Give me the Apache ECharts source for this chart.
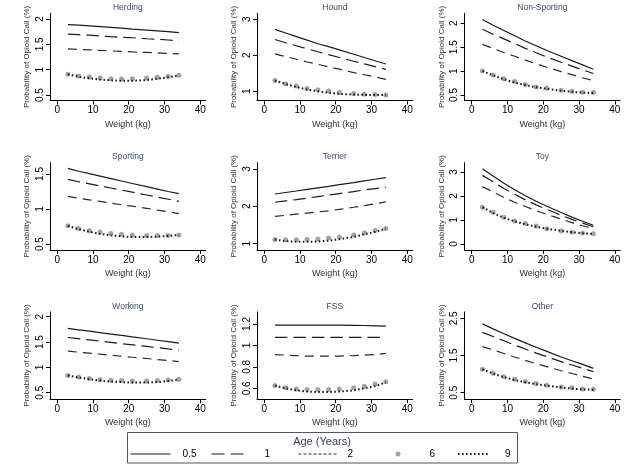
<!DOCTYPE html>
<html><head><meta charset="utf-8">
<script src="https://cdn.jsdelivr.net/npm/echarts@6/dist/echarts.min.js"></script>
<style>html,body{margin:0;padding:0;background:#fff}#c{width:643px;height:466px}</style>
</head><body><div id="c"></div>
<script>
// ---------- DATA ----------
const weights = [3, 6, 9, 12, 15, 18, 21, 25, 28, 31, 34];
const ages = ['0.5', '1', '2', '6', '9'];
const groups = ['Herding', 'Hound', 'Non-Sporting', 'Sporting', 'Terrier', 'Toy', 'Working', 'FSS', 'Other'];
const xTicks = [0, 10, 20, 30, 40];

// each row: age 0.5, 1, 2, 6, 9 (probability of opioid call, %)
const herding = [
  [1.89, 1.88, 1.865, 1.85, 1.835, 1.82, 1.80, 1.78, 1.765, 1.75, 1.73],
  [1.70, 1.69, 1.68, 1.665, 1.65, 1.64, 1.63, 1.61, 1.60, 1.585, 1.57],
  [1.41, 1.40, 1.39, 1.38, 1.37, 1.36, 1.35, 1.34, 1.33, 1.32, 1.31],
  [0.91, 0.875, 0.855, 0.835, 0.82, 0.815, 0.82, 0.835, 0.85, 0.87, 0.89],
  [0.91, 0.86, 0.83, 0.805, 0.79, 0.78, 0.78, 0.795, 0.82, 0.85, 0.89]
];
const hound = [
  [2.72, 2.62, 2.52, 2.42, 2.32, 2.24, 2.15, 2.03, 1.94, 1.85, 1.76],
  [2.44, 2.35, 2.265, 2.18, 2.10, 2.02, 1.94, 1.835, 1.76, 1.685, 1.61],
  [2.04, 1.965, 1.89, 1.815, 1.75, 1.68, 1.615, 1.52, 1.46, 1.40, 1.33],
  [1.30, 1.21, 1.15, 1.08, 1.04, 1.01, 0.97, 0.94, 0.92, 0.91, 0.90],
  [1.30, 1.20, 1.12, 1.05, 1.00, 0.96, 0.93, 0.91, 0.90, 0.90, 0.90]
];
const nonSporting = [
  [2.08, 1.96, 1.85, 1.74, 1.63, 1.53, 1.43, 1.31, 1.22, 1.13, 1.04],
  [1.875, 1.77, 1.675, 1.575, 1.475, 1.385, 1.295, 1.185, 1.105, 1.025, 0.95],
  [1.56, 1.47, 1.39, 1.31, 1.23, 1.155, 1.08, 0.99, 0.925, 0.86, 0.80],
  [1.00, 0.92, 0.84, 0.78, 0.72, 0.67, 0.64, 0.60, 0.58, 0.56, 0.55],
  [1.00, 0.91, 0.83, 0.76, 0.71, 0.66, 0.63, 0.59, 0.57, 0.55, 0.54]
];
const sporting = [
  [1.58, 1.54, 1.505, 1.47, 1.435, 1.40, 1.365, 1.32, 1.285, 1.25, 1.22],
  [1.424, 1.39, 1.36, 1.33, 1.30, 1.27, 1.24, 1.20, 1.17, 1.14, 1.11],
  [1.18, 1.155, 1.13, 1.11, 1.085, 1.06, 1.04, 1.01, 0.985, 0.96, 0.935],
  [0.76, 0.72, 0.69, 0.67, 0.65, 0.64, 0.63, 0.62, 0.62, 0.62, 0.63],
  [0.76, 0.71, 0.675, 0.645, 0.625, 0.61, 0.60, 0.60, 0.605, 0.615, 0.63]
];
const terrier = [
  [2.33, 2.37, 2.41, 2.455, 2.495, 2.535, 2.58, 2.635, 2.68, 2.725, 2.77],
  [2.11, 2.145, 2.18, 2.22, 2.26, 2.30, 2.34, 2.395, 2.44, 2.475, 2.51],
  [1.73, 1.76, 1.79, 1.82, 1.85, 1.88, 1.92, 1.975, 2.02, 2.07, 2.12],
  [1.115, 1.105, 1.105, 1.115, 1.125, 1.15, 1.18, 1.23, 1.29, 1.35, 1.41],
  [1.11, 1.07, 1.05, 1.05, 1.06, 1.08, 1.12, 1.18, 1.25, 1.32, 1.40]
];
const toy = [
  [3.14, 2.83, 2.53, 2.26, 2.01, 1.78, 1.57, 1.31, 1.12, 0.95, 0.78],
  [2.86, 2.59, 2.31, 2.07, 1.84, 1.63, 1.44, 1.20, 1.025, 0.87, 0.72],
  [2.39, 2.17, 1.94, 1.74, 1.56, 1.39, 1.23, 1.04, 0.89, 0.76, 0.64],
  [1.53, 1.32, 1.11, 0.96, 0.85, 0.75, 0.64, 0.54, 0.49, 0.46, 0.43],
  [1.53, 1.29, 1.09, 0.94, 0.82, 0.72, 0.64, 0.55, 0.49, 0.45, 0.42]
];
const working = [
  [1.77, 1.742, 1.714, 1.686, 1.658, 1.63, 1.602, 1.565, 1.536, 1.508, 1.48],
  [1.59, 1.566, 1.542, 1.517, 1.493, 1.469, 1.445, 1.413, 1.389, 1.364, 1.34],
  [1.32, 1.30, 1.28, 1.26, 1.24, 1.22, 1.20, 1.175, 1.155, 1.135, 1.115],
  [0.84, 0.81, 0.78, 0.76, 0.745, 0.74, 0.73, 0.73, 0.74, 0.75, 0.76],
  [0.84, 0.80, 0.765, 0.74, 0.72, 0.71, 0.70, 0.70, 0.71, 0.73, 0.76]
];
const fss = [
  [1.19, 1.19, 1.19, 1.19, 1.19, 1.19, 1.19, 1.188, 1.186, 1.183, 1.18],
  [1.075, 1.075, 1.075, 1.075, 1.075, 1.075, 1.075, 1.075, 1.075, 1.075, 1.075],
  [0.915, 0.91, 0.905, 0.90, 0.90, 0.90, 0.90, 0.905, 0.91, 0.915, 0.925],
  [0.625, 0.606, 0.594, 0.588, 0.588, 0.588, 0.594, 0.606, 0.62, 0.64, 0.66],
  [0.625, 0.60, 0.58, 0.57, 0.565, 0.565, 0.57, 0.58, 0.60, 0.62, 0.655]
];
const other = [
  [2.35, 2.215, 2.085, 1.96, 1.84, 1.72, 1.61, 1.46, 1.36, 1.26, 1.155],
  [2.12, 2.01, 1.895, 1.78, 1.675, 1.565, 1.47, 1.335, 1.245, 1.155, 1.065],
  [1.74, 1.65, 1.555, 1.46, 1.37, 1.28, 1.20, 1.09, 1.015, 0.94, 0.87],
  [1.13, 1.02, 0.93, 0.86, 0.80, 0.75, 0.70, 0.65, 0.63, 0.60, 0.59],
  [1.13, 1.01, 0.92, 0.84, 0.78, 0.73, 0.69, 0.64, 0.61, 0.59, 0.58]
];
const groupValues = [herding, hound, nonSporting, sporting, terrier, toy, working, fss, other];

// y-axis tick labels per panel
const yTicks = [
  [0.5, 1, 1.5, 2], [1, 2, 3], [0.5, 1, 1.5, 2],
  [0.5, 1, 1.5], [1, 2, 3], [0, 1, 2, 3],
  [0.5, 1, 1.5, 2], [0.6, 0.8, 1, 1.2], [0.5, 1.5, 2.5]
];

// ---------- LAYOUT (axis extents / positions) ----------
const yRanges = [
  [0.39, 2.112], [0.742, 3.167], [0.383, 2.209],
  [0.416, 1.663], [0.834, 3.171], [-0.246, 3.392],
  [0.372, 2.095], [0.498, 1.313], [0.325, 2.672]
];
const colLeft = [50, 257, 464.5];
const rowTop = [13.3, 162.6, 311.9];
const gridW = 155.7, gridH = 87.3;
const FONT = "'Liberation Sans', Arial, sans-serif";
const INK = '#1a1a1a';

const grids = [], xAxes = [], yAxes = [], titles = [], series = [];
groups.forEach((g, i) => {
  const r = Math.floor(i / 3), c = i % 3;
  grids.push({left: colLeft[c], top: rowTop[r], width: gridW, height: gridH, containLabel: false});
  titles.push({
    text: g, left: colLeft[c] + gridW / 2, top: rowTop[r] - 10, textAlign: 'center', padding: 0,
    textStyle: {fontSize: 8.5, fontWeight: 'normal', color: '#3a4a6e', fontFamily: FONT}
  });
  xAxes.push({
    type: 'value', gridIndex: i, min: -2, max: 41.5,
    axisLine: {show: true, onZero: false, lineStyle: {color: '#000', width: 1}},
    axisTick: {show: true, length: 4, customValues: xTicks, lineStyle: {color: '#000'}},
    axisLabel: {customValues: xTicks, fontSize: 10, color: '#000', margin: 5, fontFamily: FONT},
    splitLine: {show: false},
    name: 'Weight (kg)', nameLocation: 'middle', nameGap: 19,
    nameTextStyle: {fontSize: 9, color: '#333', fontFamily: FONT}
  });
  yAxes.push({
    type: 'value', gridIndex: i, min: yRanges[i][0], max: yRanges[i][1],
    axisLine: {show: true, onZero: false, lineStyle: {color: '#000', width: 1}},
    axisTick: {show: true, length: 4, customValues: yTicks[i], lineStyle: {color: '#000'}},
    axisLabel: {customValues: yTicks[i], rotate: 90, fontSize: 10, color: '#000', margin: 5, fontFamily: FONT},
    splitLine: {show: false},
    name: 'Probability of Opioid Call (%)', nameLocation: 'middle', nameRotate: 90, nameGap: 19,
    nameTextStyle: {fontSize: 8, color: '#333', fontFamily: FONT}
  });
  const vals = groupValues[i];
  const pts = k => weights.map((w, j) => [w, vals[k][j]]);
  series.push({name: ages[0], type: 'line', xAxisIndex: i, yAxisIndex: i, data: pts(0), symbol: 'none',
    lineStyle: {color: INK, width: 1.2, type: 'solid'}, itemStyle: {color: INK}});
  series.push({name: ages[1], type: 'line', xAxisIndex: i, yAxisIndex: i, data: pts(1), symbol: 'none',
    lineStyle: {color: INK, width: 1.2, type: [12.5, 6]}, itemStyle: {color: INK}});
  series.push({name: ages[2], type: 'line', xAxisIndex: i, yAxisIndex: i, data: pts(2), symbol: 'none',
    lineStyle: {color: '#2a2a2a', width: 1.2, type: [9, 6]}, itemStyle: {color: '#2a2a2a'}});
  series.push({name: ages[3], type: 'scatter', xAxisIndex: i, yAxisIndex: i, data: pts(3), symbol: 'circle',
    symbolSize: 5, itemStyle: {color: '#8c8c8c'}});
  series.push({name: ages[4], type: 'line', xAxisIndex: i, yAxisIndex: i, data: pts(4), symbol: 'none', z: 3,
    lineStyle: {color: INK, width: 2, type: [1.6, 2.4]}, itemStyle: {color: INK}});
});

// legend: one component per key so each sits where the reference puts it
const legendSpecs = [
  {name: '0.5', left: 130, w: 40, h: 10, pad: 7, line: {width: 1.1}},
  {name: '1', left: 211, w: 32, h: 10, pad: 16, line: {width: 1.1, type: [13, 6]}},
  {name: '2', left: 298, w: 40, h: 10, pad: 4, line: {type: [3, 2], width: 1}},
  {name: '6', left: 395.5, w: 5, h: 5, pad: 24},
  {name: '9', left: 457, w: 31, h: 10, pad: 11, line: {width: 2, type: [1.6, 2.4]}}
];
const legends = legendSpecs.map(s => {
  const l = {
    data: [s.name], left: s.left, top: 449, orient: 'horizontal', padding: 0,
    itemWidth: s.w, itemHeight: s.h, selectedMode: false,
    textStyle: {fontSize: 10, color: '#000', fontFamily: FONT, padding: [0, 0, 0, s.pad]}
  };
  if (s.line) {
    l.lineStyle = s.line;
    l.itemStyle = {opacity: 0};
  }
  return l;
});

const chart = echarts.init(document.getElementById('c'), null, {renderer: 'canvas'});
chart.setOption({
  animation: false,
  backgroundColor: '#fff',
  textStyle: {fontFamily: FONT},
  title: titles,
  grid: grids,
  xAxis: xAxes,
  yAxis: yAxes,
  legend: legends,
  series: series,
  graphic: [
    {type: 'rect', shape: {x: 127.5, y: 432.5, width: 390, height: 30.5}, silent: true,
      style: {fill: 'none', stroke: '#555', lineWidth: 1}},
    {type: 'text', x: 322, y: 442, silent: true,
      style: {text: 'Age (Years)', fontSize: 11, fill: '#2f3f66', fontFamily: FONT, align: 'center', verticalAlign: 'middle'}}
  ]
});
</script></body></html>
